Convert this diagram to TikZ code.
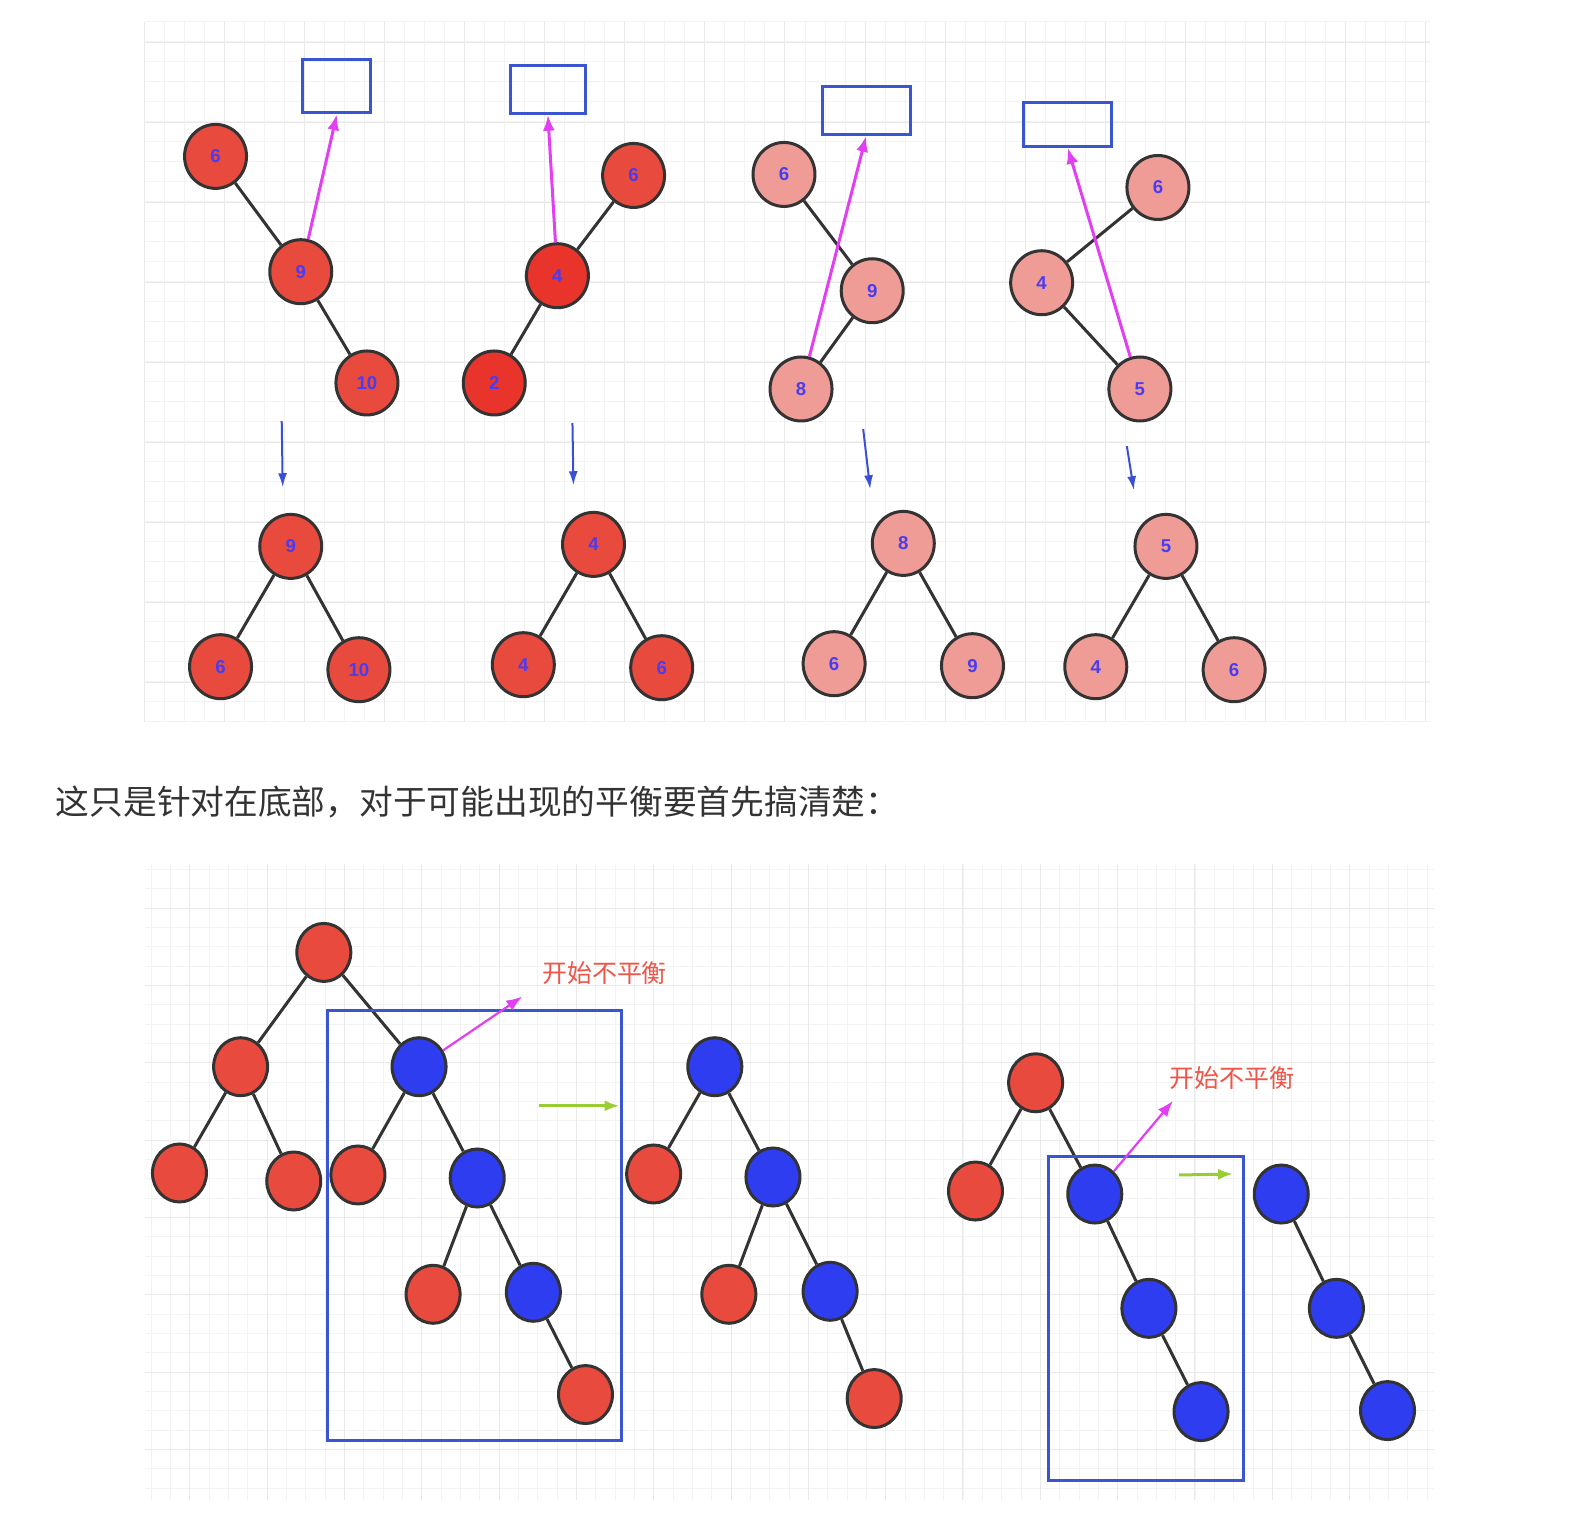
\documentclass[tikz,border=0pt]{standalone}
\usepackage{fontspec}
\newfontfamily\cjk{Noto Sans CJK SC}
\newfontfamily\keyfont{Liberation Sans}
\usetikzlibrary{arrows.meta,shapes.geometric}
\definecolor{nodered}{HTML}{E84A3E}
\definecolor{deepred}{HTML}{E8342A}
\definecolor{nodepink}{HTML}{EF9C97}
\definecolor{nodeblue}{HTML}{2E3DF0}
\definecolor{edgegray}{HTML}{333333}
\definecolor{labelblue}{HTML}{4A3CF0}
\definecolor{boxblue}{HTML}{3A55D0}
\definecolor{magarrow}{HTML}{E23EF3}
\definecolor{greenarrow}{HTML}{9ACD32}
\definecolor{downblue}{HTML}{3A4FD8}
\definecolor{warnred}{HTML}{EE5548}
\definecolor{gridminor}{HTML}{F3F3F3}
\definecolor{gridmajor}{HTML}{E9E9E9}
\begin{document}
\begin{tikzpicture}[x=0.10026mm, y=-0.10026mm,
	minorgrid/.style = {draw=gridminor, line width=0.1mm},
	majorgrid/.style = {draw=gridmajor, line width=0.1mm},
	key/.style = {ellipse, draw=edgegray, line width=0.3mm, minimum width=6.2mm, minimum height=6.4mm, inner sep=0pt, text=labelblue, font=\keyfont\bfseries\fontsize{5.3}{6}\selectfont},
	ball/.style = {ellipse, draw=edgegray, line width=0.3mm, minimum width=5.4mm, minimum height=5.8mm, inner sep=0pt},
	edge/.style = {draw=edgegray, line width=0.3mm},
	slot/.style = {draw=boxblue, line width=0.3mm, inner sep=0pt},
	pointer/.style = {magarrow, line width=0.3mm, -{Latex[length=1.6mm,width=1.2mm]}},
	down/.style = {downblue, line width=0.2mm, -{Latex[length=1.4mm,width=0.9mm]}},
	shift arrow/.style = {greenarrow, line width=0.3mm, -{Latex[length=1.5mm,width=1.1mm]}},
	warn/.style = {text=warnred, font=\cjk\fontsize{7.1pt}{8pt}\selectfont, inner sep=0pt}]
	\useasboundingbox (0,0) rectangle (1568,1524);
	
	%upper grid
	\foreach \k in {0,...,64} \draw[minorgrid] ({144.6+19.95*\k},22) -- ({144.6+19.95*\k},720);
	\foreach \k in {0,...,35} \draw[minorgrid] (145,{21.9+19.95*\k}) -- (1426,{21.9+19.95*\k});
	\foreach \k in {0,...,16} \draw[majorgrid] ({144.6+79.8*\k},22) -- ({144.6+79.8*\k},720);
	\foreach \k in {0,...,8} \draw[majorgrid] (145,{41.9+79.8*\k}) -- (1426,{41.9+79.8*\k});
	
	%lower grid
	\foreach \k in {0,...,66} \draw[minorgrid] ({150.9+19.28*\k},862) -- ({150.9+19.28*\k},1496);
	\foreach \k in {0,...,32} \draw[minorgrid] (145,{867.4+19.28*\k}) -- (1430,{867.4+19.28*\k});
	\foreach \k in {0,...,15} \draw[majorgrid] ({189.5+77.1*\k},862) -- ({189.5+77.1*\k},1496);
	\foreach \k in {0,...,7} \draw[majorgrid] (145,{906+77.1*\k}) -- (1430,{906+77.1*\k});
	
	%first case
	\node[key, fill=nodered] (a6) at (215,156) {6};
	\node[key, fill=nodered] (a9) at (300,271) {9};
	\node[key, fill=nodered] (a10) at (366,382) {10};
	\node[slot, minimum width=6.8mm, minimum height=5.3mm] (aslot) at (336,86) {};
	\draw[edge] (a6) -- (a9) -- (a10);
	\draw[pointer] (a9) -- (aslot.south);
	
	%second case
	\node[key, fill=nodered] (b6) at (632,175) {6};
	\node[key, fill=deepred] (b4) at (556,275) {4};
	\node[key, fill=deepred] (b2) at (493,382) {2};
	\node[slot, minimum width=7.5mm, minimum height=4.8mm] (bslot) at (546.5,89) {};
	\draw[edge] (b6) -- (b4) -- (b2);
	\draw[pointer] (b4) -- (bslot.south);
	
	%third case
	\node[key, fill=nodepink] (c6) at (782,174) {6};
	\node[key, fill=nodepink] (c9) at (870,290) {9};
	\node[key, fill=nodepink] (c8) at (799,388) {8};
	\node[slot, minimum width=8.8mm, minimum height=4.8mm] (cslot) at (864,110) {};
	\draw[edge] (c6) -- (c9) -- (c8);
	\draw[pointer] (c8) -- (cslot.south);
	
	%fourth case
	\node[key, fill=nodepink] (d6) at (1155,187) {6};
	\node[key, fill=nodepink] (d4) at (1039,282) {4};
	\node[key, fill=nodepink] (d5) at (1137,388) {5};
	\node[slot, minimum width=8.8mm, minimum height=4.4mm] (dslot) at (1065,124) {};
	\draw[edge] (d6) -- (d4) -- (d5);
	\draw[pointer] (d5) -- (dslot.south);
	
	%rotations
	\coordinate (adown) at (281,420); \coordinate (aend) at (282,486);
	\coordinate (bdown) at (571,422); \coordinate (bend) at (572,484);
	\coordinate (cdown) at (861,428); \coordinate (cend) at (868,488);
	\coordinate (ddown) at (1124,445); \coordinate (dend) at (1131,489);
	\draw[down] (adown) -- (aend);
	\draw[down] (bdown) -- (bend);
	\draw[down] (cdown) -- (cend);
	\draw[down] (ddown) -- (dend);
	
	\node[key, fill=nodered] (ra9) at (290,545) {9};
	\node[key, fill=nodered] (ra6) at (220,665) {6};
	\node[key, fill=nodered] (ra10) at (358,668) {10};
	\draw[edge] (ra6) -- (ra9) -- (ra10);
	
	\node[key, fill=nodered] (rb4) at (592,543) {4};
	\node[key, fill=nodered] (rb4l) at (522,663) {4};
	\node[key, fill=nodered] (rb6) at (660,666) {6};
	\draw[edge] (rb4l) -- (rb4) -- (rb6);
	
	\node[key, fill=nodepink] (rc8) at (901,542) {8};
	\node[key, fill=nodepink] (rc6) at (832,662) {6};
	\node[key, fill=nodepink] (rc9) at (970,664) {9};
	\draw[edge] (rc6) -- (rc8) -- (rc9);
	
	\node[key, fill=nodepink] (rd5) at (1163,545) {5};
	\node[key, fill=nodepink] (rd4) at (1093,665) {4};
	\node[key, fill=nodepink] (rd6) at (1231,668) {6};
	\draw[edge] (rd4) -- (rd5) -- (rd6);
	
	%caption
	\node[anchor=west, inner sep=0pt, text=edgegray, font=\cjk\fontsize{9.6pt}{11pt}\selectfont] (caption) at (55,800) {这只是针对在底部，对于可能出现的平衡要首先搞清楚：};
	
	%left tree
	\node[ball, fill=nodered] (lroot) at (323,950) {};
	\node[ball, fill=nodered] (ll) at (240,1064) {};
	\node[ball, fill=nodeblue] (lr) at (418,1064) {};
	\node[ball, fill=nodered] (lll) at (179,1170) {};
	\node[ball, fill=nodered] (llr) at (293,1178) {};
	\node[ball, fill=nodered] (lrl) at (357,1172) {};
	\node[ball, fill=nodeblue] (lrr) at (476,1175) {};
	\node[ball, fill=nodered] (lrrl) at (432,1291) {};
	\node[ball, fill=nodeblue] (lrrr) at (532,1289) {};
	\node[ball, fill=nodered] (lrrrr) at (584,1391) {};
	\draw[edge] (lll) -- (ll) -- (llr);
	\draw[edge] (ll) -- (lroot) -- (lr);
	\draw[edge] (lrl) -- (lr) -- (lrr);
	\draw[edge] (lrrl) -- (lrr) -- (lrrr) -- (lrrrr);
	\node[slot, minimum width=29.4mm, minimum height=43mm] (lbox) at (473,1222) {};
	\node[warn] (lwarn) at (603,971) {开始不平衡};
	\coordinate (ltip) at (521,994);
	\draw[pointer, line width=0.22mm] (lr) -- (ltip);
	\coordinate (lgo) at (538,1103); \coordinate (lgoend) at (618,1103);
	\draw[shift arrow] (lgo) -- (lgoend);
	
	%middle tree
	\node[ball, fill=nodeblue] (mroot) at (713,1064) {};
	\node[ball, fill=nodered] (ml) at (652,1171) {};
	\node[ball, fill=nodeblue] (mr) at (771,1174) {};
	\node[ball, fill=nodered] (mrl) at (727,1291) {};
	\node[ball, fill=nodeblue] (mrr) at (828,1288) {};
	\node[ball, fill=nodered] (mrrr) at (872,1395) {};
	\draw[edge] (ml) -- (mroot) -- (mr);
	\draw[edge] (mrl) -- (mr) -- (mrr) -- (mrrr);
	
	%right tree
	\node[ball, fill=nodered] (rroot) at (1033,1080) {};
	\node[ball, fill=nodered] (rl) at (973,1188) {};
	\node[ball, fill=nodeblue] (rr) at (1092,1191) {};
	\node[ball, fill=nodeblue] (rrr) at (1146,1305) {};
	\node[ball, fill=nodeblue] (rrrr) at (1198,1408) {};
	\draw[edge] (rl) -- (rroot) -- (rr) -- (rrr) -- (rrrr);
	\node[slot, minimum width=19.5mm, minimum height=32.4mm] (rbox) at (1143.5,1315) {};
	\node[warn] (rwarn) at (1229,1075) {开始不平衡};
	\coordinate (rtip) at (1170,1098);
	\draw[pointer, line width=0.22mm] (rr) -- (rtip);
	\coordinate (rgo) at (1176,1172); \coordinate (rgoend) at (1230,1171);
	\draw[shift arrow] (rgo) -- (rgoend);
	
	%after
	\node[ball, fill=nodeblue] (froot) at (1278,1191) {};
	\node[ball, fill=nodeblue] (fr) at (1333,1305) {};
	\node[ball, fill=nodeblue] (frr) at (1384,1407) {};
	\draw[edge] (froot) -- (fr) -- (frr);
\end{tikzpicture}
\end{document}
